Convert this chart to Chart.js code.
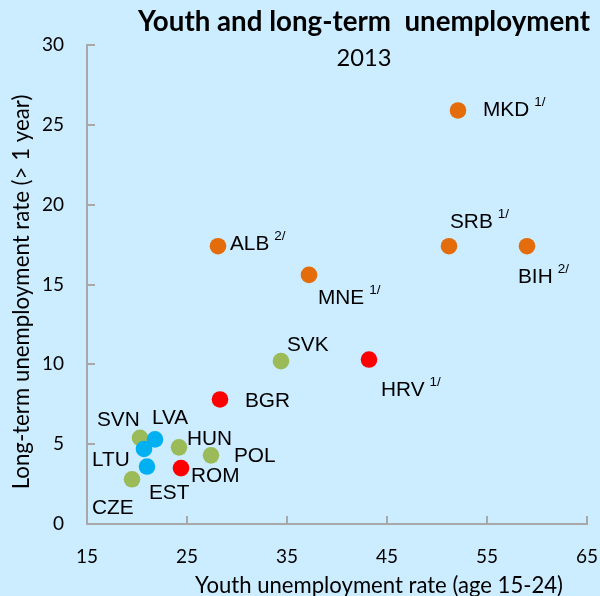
<!DOCTYPE html>
<html><head><meta charset="utf-8">
<script src="https://cdn.jsdelivr.net/npm/chart.js@4.4.1/dist/chart.umd.min.js"></script>
<style>html,body{margin:0;padding:0;background:#CCECFF;}#wrap{width:600px;height:596px;}</style>
</head><body><div id="wrap"><canvas id="c" width="600" height="596"></canvas></div>
<script>
// ---- data ----
const countries = ['MKD','SRB','BIH','ALB','MNE','SVK','HRV','BGR','SVN','LVA','LTU','HUN','POL','ROM','EST','CZE'];
const youthRate = [52.1, 51.2, 59.0, 28.1, 37.2, 34.4, 43.2, 28.3, 20.3, 21.8, 20.7, 24.2, 27.4, 24.4, 21.0, 19.5];
const longTermRate = [25.9, 17.4, 17.4, 17.4, 15.6, 10.2, 10.3, 7.8, 5.4, 5.3, 4.7, 4.8, 4.3, 3.5, 3.6, 2.8];
const footnotes = ['1/','1/','2/','2/','1/','','1/','','','','','','','','',''];
const groups = ['orange','orange','orange','orange','orange','green','red','red','green','blue','blue','green','green','red','blue','green'];
const xTicks = [15, 25, 35, 45, 55, 65];
const yTicks = [0, 5, 10, 15, 20, 25, 30];
const titleText = 'Youth and long-term  unemployment';
const subtitleText = '2013';
const xTitle = 'Youth unemployment rate (age 15-24)';
const yTitle = 'Long-term unemployment rate (> 1 year)';

// ---- styles ----
const colors = {blue:'#00B0F0', green:'#9BBB59', red:'#FF0000', orange:'#E46C0A'};
const groupOrder = ['orange','red','blue','green'];
// label offsets (text left edge / vertical middle relative to point)
const labelOffsets = {
  MKD:[25,0], SRB:[1,-24], BIH:[-9,31], ALB:[12,-2], MNE:[9,23], SVK:[6,-16], HRV:[12,31],
  BGR:[25,2], SVN:[-43,-18], LVA:[-3,-21], LTU:[-52,11], HUN:[8,-8], POL:[23,1], ROM:[10,8],
  EST:[2,27], CZE:[-40,29]
};
const axisColor = '#A8A8A8';

const datasets = groupOrder.map(g => {
  const pts = [];
  countries.forEach((c, i) => { if (groups[i] === g) pts.push({x: youthRate[i], y: longTermRate[i], name: c, note: footnotes[i]}); });
  return {label: g, data: pts, backgroundColor: colors[g], borderWidth: 0, pointRadius: 8.3, pointHoverRadius: 8.3};
});

function fitFont(ctx, text, width, weight, family) {
  ctx.font = weight + ' 100px ' + family;
  const w = ctx.measureText(text).width;
  return weight + ' ' + (100 * width / w).toFixed(2) + 'px ' + family;
}

const textPlugin = {
  id: 'texts',
  afterDatasetsDraw(chart) {
    const ctx = chart.ctx;
    ctx.save();
    ctx.fillStyle = '#000';
    ctx.textBaseline = 'middle';
    chart.data.datasets.forEach((ds, di) => {
      const meta = chart.getDatasetMeta(di);
      meta.data.forEach((el, i) => {
        const d = ds.data[i];
        const off = labelOffsets[d.name];
        const x = el.x + off[0], y = el.y + off[1];
        ctx.font = '20.8px "Liberation Sans", Arial, sans-serif';
        ctx.textAlign = 'left';
        ctx.fillText(d.name, x, y);
        if (d.note) {
          const w = ctx.measureText(d.name).width;
          ctx.font = '13.5px "Liberation Sans", Arial, sans-serif';
          ctx.fillText(d.note, x + w + 5, y - 8);
        }
      });
    });
    // titles
    ctx.textAlign = 'center';
    ctx.font = fitFont(ctx, titleText, 452, 'bold', 'Lato');
    ctx.fillText(titleText, 364, 22);
    ctx.font = fitFont(ctx, subtitleText, 55, 'normal', 'Lato');
    ctx.fillText(subtitleText, 364, 58);
    ctx.font = fitFont(ctx, xTitle, 368, 'normal', 'Lato');
    ctx.fillText(xTitle, 379, 586);
    ctx.translate(22, 292);
    ctx.rotate(-Math.PI / 2);
    ctx.font = fitFont(ctx, yTitle, 395, 'normal', 'Lato');
    ctx.fillText(yTitle, 0, 0);
    ctx.restore();
  }
};

new Chart(document.getElementById('c'), {
  type: 'scatter',
  data: {datasets},
  options: {
    responsive: false,
    animation: false,
    events: [],
    layout: {padding: {top: 45, right: 13, left: 0, bottom: 0}},
    plugins: {legend: {display: false}, tooltip: {enabled: false}, title: {display: false}},
    scales: {
      x: {
        type: 'linear', min: xTicks[0], max: xTicks[xTicks.length - 1],
        afterBuildTicks: s => { s.ticks = xTicks.map(v => ({value: v})); },
        afterFit: s => { s.height = 72; s.paddingLeft = 0; s.paddingRight = 0; },
        ticks: {color: '#000', font: {family: 'Lato', size: 19}, padding: 29},
        grid: {drawOnChartArea: false, drawTicks: true, tickLength: -8, color: axisColor, lineWidth: 2},
        border: {display: true, color: axisColor, width: 2}
      },
      y: {
        type: 'linear', min: yTicks[0], max: yTicks[yTicks.length - 1],
        afterBuildTicks: s => { s.ticks = yTicks.map(v => ({value: v})); },
        afterFit: s => { s.width = 87; s.paddingTop = 0; s.paddingBottom = 0; },
        ticks: {color: '#000', font: {family: 'Lato', size: 19}, padding: 31},
        grid: {drawOnChartArea: false, drawTicks: true, tickLength: -8, color: axisColor, lineWidth: 2},
        border: {display: true, color: axisColor, width: 2}
      }
    }
  },
  plugins: [textPlugin]
});
</script>
</body></html>
